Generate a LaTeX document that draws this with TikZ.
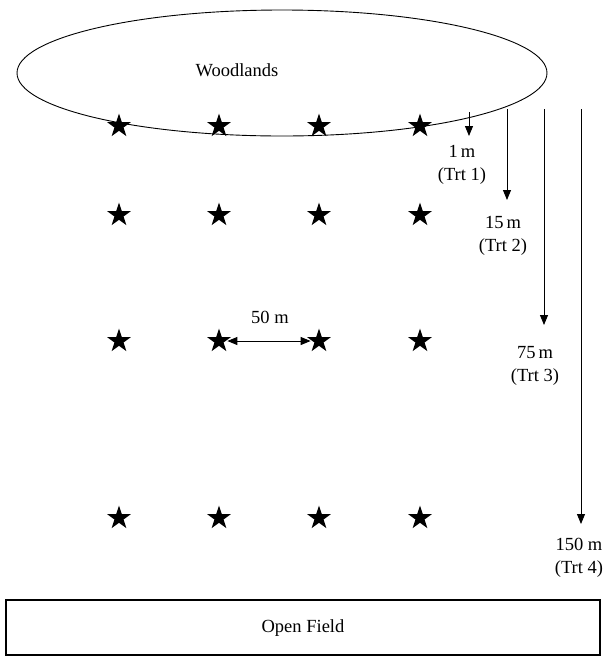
\documentclass[tikz,border=0pt]{standalone}
\usepackage{fontspec}
\setmainfont{Liberation Serif}
\usetikzlibrary{shapes.geometric,arrows.meta}
\begin{document}
\begin{tikzpicture}[x=1pt,y=-1pt,
  plot/.style={star,star points=5,star point ratio=2.6,minimum size=25pt,inner sep=0pt,fill=black,draw=none},
  lbl/.style={font=\fontsize{18.5}{23}\selectfont,align=center,inner sep=1pt},
  dist/.style={line width=0.9pt,-{Triangle[length=10pt,width=8pt]}},
  every path/.style={line width=0.9pt}]
\useasboundingbox (0,0) rectangle (609,657);
\node[ellipse,draw,minimum width=530pt,minimum height=126pt,inner sep=0pt] (wood) at (282,73) {};
\node[lbl] (woodt) at (237,70) {Woodlands};
\foreach \r/\y in {1/126,2/215,3/341,4/518}{
  \foreach \c/\x in {1/119,2/219,3/319,4/420}{
    \node[plot] (s\r\c) at (\x,\y) {};
  }
}
\coordinate (a1s) at (469,112); \coordinate (a1e) at (469,136);
\coordinate (a2s) at (507,109); \coordinate (a2e) at (507,200);
\coordinate (a3s) at (544,109); \coordinate (a3e) at (544,325);
\coordinate (a4s) at (581,109); \coordinate (a4e) at (581,524);
\draw[dist] (a1s) -- (a1e);
\draw[dist] (a2s) -- (a2e);
\draw[dist] (a3s) -- (a3e);
\draw[dist] (a4s) -- (a4e);
\node[lbl] (l1) at (462,165) {1\,m\\(Trt 1)};
\node[lbl] (l2) at (503,236) {15\,m\\(Trt 2)};
\node[lbl] (l3) at (535,366) {75\,m\\(Trt 3)};
\node[lbl] (l4) at (579,558) {150 m\\(Trt 4)};
\draw[line width=0.9pt,{Triangle[length=10pt,width=8pt]}-{Triangle[length=10pt,width=8pt]},shorten <=1pt,shorten >=1pt] (s32) -- (s33);
\node[lbl] (fifty) at (270,317) {50 m};
\node[draw,line width=1.2pt,minimum width=594pt,minimum height=55pt,inner sep=0pt] (field) at (303,627.5) {};
\node[lbl] (fieldt) at (303,628) {Open Field};
\end{tikzpicture}
\end{document}
